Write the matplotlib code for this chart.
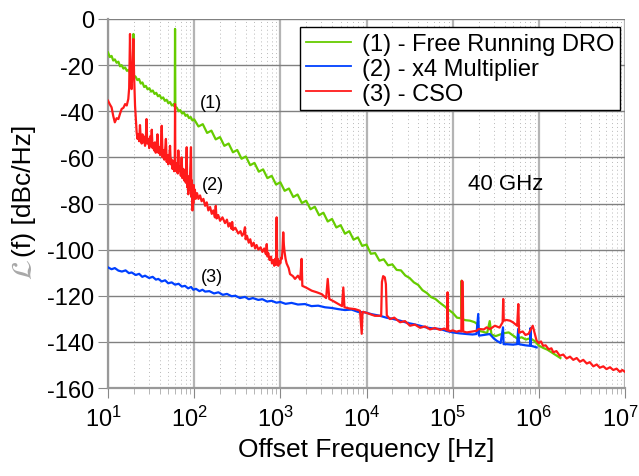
import matplotlib
matplotlib.use("Agg")
import matplotlib.pyplot as plt
import matplotlib.transforms as mtransforms
from matplotlib.ticker import LogLocator, NullFormatter

plt.rcParams['font.family'] = ['Liberation Sans', 'DejaVu Sans']
plt.rcParams['axes.unicode_minus'] = False
plt.rcParams['mathtext.fontset'] = 'custom'
plt.rcParams['mathtext.rm'] = 'Liberation Sans'
plt.rcParams['mathtext.it'] = 'Liberation Sans:italic'

# ---------------- data (offset frequency [Hz], L(f) [dBc/Hz]) ----------------
green_dro = [
    (10, -14.5), (10.5, -16.5), (11, -16), (11.5, -18), (12, -17.5), (12.6, -19),
    (13.2, -18.5), (13.8, -20.5), (14.4, -20), (15.1, -21.5), (15.8, -21), (16.6, -22.5),
    (17.4, -22), (18.2, -24), (19.1, -23.5), (19.5, -24), (19.7, -6.5), (19.9, -24.5),
    (20.9, -25), (21.9, -26.5), (22.9, -26), (24, -28), (25.1, -27.5), (26.3, -29.5),
    (27.5, -29), (28.8, -30.5), (30.2, -30), (31.6, -31.5), (33.1, -31), (34.7, -32.5),
    (36.3, -32), (38, -33.5), (39.8, -33), (41.7, -34.5), (43.7, -34), (45.7, -35.5),
    (47.9, -35), (50.1, -36.5), (52.5, -36), (55, -37.5), (57.5, -37), (59.5, -38),
    (60, -4.3), (60.5, -38), (63, -38.5), (66, -40), (69, -39.5), (72.4, -41),
    (75.9, -40.5), (79.4, -42), (83.2, -41.5), (87.1, -43), (91.2, -42.5), (95.5, -44),
    (100, -43.5), (112.2, -46.6), (125.9, -45.6), (141.3, -49.4), (158.5, -48.4),
    (177.8, -52.2), (199.5, -51.2), (223.9, -55.0), (251.2, -54.0), (281.8, -57.8),
    (316.2, -56.8), (354.8, -60.6), (398.1, -59.6), (446.7, -63.4), (501.2, -62.4),
    (562.3, -66.2), (631, -65.2), (707.9, -69.0), (794.3, -68.0), (891.3, -71.8),
    (1000, -70.8), (1122, -74.5), (1259, -73.5), (1413, -77.2), (1585, -76.1),
    (1778, -79.8), (1995, -78.8), (2239, -82.5), (2512, -81.4), (2818, -85.1),
    (3162, -84.0), (3548, -87.8), (3981, -86.7), (4467, -90.4), (5012, -89.4),
    (5623, -93.1), (6310, -92.0), (7079, -95.7), (7943, -94.7), (8913, -98.4),
    (10000, -97.8), (11220, -101.8), (12590, -101.5), (14130, -104.8), (15850, -104.2),
    (17780, -106.8), (19950, -106.4), (22390, -108.8), (25120, -109), (28180, -111.2),
    (31620, -112.3), (35480, -114.2), (39810, -115.3), (44670, -117.6), (50120, -118.8),
    (56230, -120.6), (63100, -121.4), (70790, -123), (79430, -124.4), (89130, -126),
    (100000, -127.4), (112200, -129.5), (125000, -129.8), (127000, -113.5), (129000, -130.2),
    (141000, -130.6), (158500, -130.8), (178000, -131.4), (190000, -132), (199500, -135.2),
    (223900, -135.6), (251200, -136.2), (269000, -131), (282000, -136.8), (316200, -137.5),
    (354800, -136.8), (398100, -136.2), (446700, -135.9), (501200, -137.2), (562300, -138.6),
    (631000, -138), (707900, -139), (794300, -138.4), (891300, -139.6), (1000000, -141.6),
    (1122000, -142.6), (1259000, -143.4), (1413000, -144.6), (1585000, -145.8),
    (1778000, -147),
]

blue_x4 = [
    (10, -107.7), (11, -108.5), (12, -108), (13.2, -109.1), (14.5, -109.5), (16, -109),
    (17.5, -110.2), (18.8, -109.9), (21, -111), (23, -110.5), (25, -111.8), (26.9, -111.3),
    (30, -112.3), (33, -111.8), (36, -113), (38.4, -112.7), (42, -113.8), (46, -113.3),
    (50, -114.6), (54.8, -114.2), (60, -115.2), (66, -114.8), (72, -116), (78.3, -115.7),
    (85, -116.8), (92, -116.2), (97.7, -117.4), (105, -117), (115, -118), (125, -117.4),
    (134, -118.2), (150, -118), (170, -119), (191, -118.5), (215, -119.6), (240, -119.2),
    (272, -120.2), (300, -120), (340, -121), (389, -120.5), (430, -121.5), (480, -121),
    (555, -121.8), (620, -121.5), (700, -122.5), (794, -122.2), (900, -123), (1000, -122.7),
    (1150, -123.5), (1350, -123.1), (1600, -123.8), (1930, -123.6), (2300, -124.5),
    (2750, -124.3), (3300, -125), (3950, -125.3), (4700, -125.8), (5620, -126.2),
    (6700, -126), (8000, -127), (9600, -127.2), (11500, -128), (14360, -128.7),
    (17000, -129.5), (20000, -130), (24500, -130.8), (30000, -131.8), (35000, -132.3),
    (41800, -133), (50000, -133.8), (60000, -134.2), (71300, -134.4), (85000, -135.3),
    (100000, -135.9), (120000, -136.3), (146000, -136.6), (170000, -136.8), (189000, -136.6),
    (198000, -127.9), (202000, -137.3), (230000, -137), (269000, -136.6), (300000, -138.5),
    (324000, -139.5), (360000, -140.5), (384000, -133.7), (390000, -141), (423000, -141),
    (500000, -141.2), (560000, -141), (576000, -134.4), (590000, -141), (700000, -141.5),
    (790000, -141.7), (800000, -134), (810000, -141.7), (870000, -142), (942000, -142.4),
]

red_cso = [
    (10, -35.4), (10.5, -37), (11, -38.3), (11.5, -42), (12, -44.8), (12.6, -43),
    (13.2, -43.4), (13.8, -41), (14.4, -39), (15.1, -38.5), (15.8, -36.9), (16.5, -37.5),
    (17.2, -34.7), (17.6, -30), (18.0, -6.5), (18.4, -28), (18.8, -30.4), (19.3, -20),
    (19.7, -8.7), (20.1, -25), (20.6, -37.6), (21.5, -49.1), (22, -52), (22.5, -50),
    (23, -53), (23.5, -46), (24, -52), (24.6, -54), (25.1, -50), (25.7, -53.5),
    (26.3, -51), (26.9, -55), (27.5, -52), (28, -43.4), (28.5, -54), (29.4, -52),
    (30.1, -56), (30.8, -51), (31.5, -55), (32.2, -48), (32.9, -56), (33.6, -54),
    (34.3, -57), (35, -53.5), (35.8, -58), (36.7, -55), (37.5, -50), (38.4, -58),
    (39.3, -55.5), (40.2, -59), (41, -56), (42, -46.3), (43, -60), (44, -57),
    (45, -61), (45.8, -58), (47, -52), (48, -62), (49, -59), (50, -63),
    (51.3, -60), (52.5, -55), (53.5, -63), (54.8, -61), (56, -65), (57.5, -61.5),
    (58.5, -66), (59.5, -63), (60, -36.9), (60.5, -64), (62, -66), (63, -62.5),
    (64.5, -67), (65.5, -57), (66.5, -66), (68.5, -64), (70, -68), (71.6, -60),
    (73, -69), (75, -65), (76.5, -70), (78.3, -66), (80, -71), (81.9, -55.6),
    (83, -73), (84, -68), (85.5, -76), (87, -70), (88.5, -74), (90, -65),
    (91.8, -55.6), (93, -77), (94, -70), (95.5, -83), (96.5, -74), (97.7, -80),
    (99, -72), (100, -77), (102, -74), (104, -78), (108, -75.5), (112, -78),
    (117, -76.5), (122, -79), (128, -78), (134, -81), (140, -79.5), (146, -83),
    (153, -81.5), (160, -84.5), (167, -83), (174, -86), (178, -81), (182, -86.5),
    (190, -85), (200, -87.5), (213, -86), (228, -88.5), (240, -87), (250, -90),
    (260, -88.5), (272, -91), (276, -88), (283, -91.5), (300, -90.5), (325, -93),
    (345, -92), (360, -94), (375, -93), (389, -90.3), (395, -95.5), (410, -94),
    (430, -97), (448, -95.5), (466, -98.5), (490, -97), (510, -99.5), (530, -98),
    (556, -100), (590, -99), (620, -101), (650, -99.5), (680, -102), (695, -97.6),
    (710, -103), (724, -101.5), (750, -104.5), (780, -103), (800, -106), (828, -104.5),
    (850, -107), (870, -104), (890, -106.5), (906, -86), (920, -106.5), (930, -104),
    (946, -107), (970, -105), (1000, -106), (1020, -103.5), (1040, -104), (1060, -100),
    (1081, -92.5), (1100, -98), (1120, -101), (1150, -104), (1183, -106), (1250, -108),
    (1295, -110.6), (1400, -111.5), (1480, -112.7), (1600, -111.3), (1700, -113),
    (1766, -104), (1800, -115.7), (2000, -116.5), (2312, -117.8), (2650, -118.5),
    (3020, -119.3), (3400, -121), (3548, -112.7), (3700, -121.4), (4200, -122.5),
    (4710, -123.6), (5200, -124.5), (5380, -116.4), (5550, -125), (6300, -125.5),
    (7350, -125.8), (8400, -126.5), (8800, -136.5), (9000, -127), (9600, -127.2),
    (11000, -128), (12500, -128.7), (14800, -128.7), (15100, -114), (15600, -111.5),
    (16300, -112), (16800, -115), (17200, -128.5), (18750, -130.1), (21000, -129.5),
    (24500, -131.5), (28000, -131), (32000, -133), (36500, -132.5), (41800, -133.9),
    (48000, -133.3), (54600, -134.6), (62000, -134), (71300, -134.8), (80000, -134.2),
    (86000, -135), (87300, -118.5), (88500, -135), (93100, -135.4), (100000, -135),
    (111000, -135.6), (120000, -135.2), (126000, -135.5), (127500, -113.5), (131000, -114),
    (132500, -135.5), (146000, -135.9), (170000, -135.5), (190000, -135.2), (200000, -134.4),
    (230000, -134.6), (248000, -133.7), (270000, -134.5), (309000, -133), (350000, -133.8),
    (380000, -131.5), (386000, -121.4), (392000, -130.8), (420000, -130.5), (462000, -130.8),
    (500000, -131.5), (560000, -133), (578000, -123.6), (590000, -136), (650000, -135.5),
    (700000, -137), (760000, -136.5), (850000, -133), (900000, -136.6), (942000, -139.5),
    (1000000, -140.5), (1060000, -139.8), (1120000, -141.7), (1200000, -141.5),
    (1300000, -143.2), (1400000, -142.8), (1470000, -144.5), (1600000, -144),
    (1750000, -146), (1920000, -145.5), (2100000, -147.2), (2300000, -146.4),
    (2510000, -147.8), (2750000, -147), (3000000, -148.6), (3280000, -147.8),
    (3600000, -149.4), (3900000, -148.8), (4290000, -150.6), (4700000, -149.8),
    (5100000, -151.2), (5600000, -150.6), (6100000, -151.8), (6700000, -151),
    (7310000, -152.2), (8000000, -151.6), (8700000, -153), (9300000, -152.2),
    (10000000, -153),
]

series_labels = ["(1) - Free Running DRO", "(2) - x4 Multiplier", "(3) - CSO"]
series_colors = ["#66cc00", "#0040ff", "#ff1a1a"]
x_tick_exps = [1, 2, 3, 4, 5, 6, 7]
y_ticks = [0, -20, -40, -60, -80, -100, -120, -140, -160]

# ---------------- figure ----------------
fig = plt.figure(figsize=(6.39, 4.77), dpi=100)
ax = fig.add_axes([108 / 639, 1 - 389 / 477, 517 / 639, 369 / 477])

for data, lab, col in zip([green_dro, blue_x4, red_cso], series_labels, series_colors):
    fx = [p[0] for p in data]
    fy = [p[1] for p in data]
    ax.plot(fx, fy, color=col, lw=1.6, label=lab, zorder=3)

ax.set_xscale('log')
ax.set_xlim(10, 1e7)
ax.set_ylim(-160, 0)
ax.set_yticks(y_ticks)
ax.set_yticklabels([str(v) for v in y_ticks])
ax.set_xticks([10.0 ** k for k in x_tick_exps])
ax.set_xticklabels([r'$10^{%d}$' % k for k in x_tick_exps])
ax.xaxis.set_minor_locator(LogLocator(base=10, subs=range(2, 10), numticks=20))
ax.xaxis.set_minor_formatter(NullFormatter())

ax.grid(True, which='major', axis='y', color='#808080', lw=1.0, ls='-', zorder=1)
ax.grid(True, which='major', axis='x', color='#b4b4b4', lw=1.6, ls='-', zorder=1)
ax.grid(True, which='minor', axis='x', color='#b8b8b8', lw=0.7, ls=(0, (1, 3)), zorder=1)
ax.set_axisbelow(True)

for s in ['top', 'right']:
    ax.spines[s].set_visible(False)
for s in ['left', 'bottom']:
    ax.spines[s].set_color('#999999')
    ax.spines[s].set_linewidth(1.6)

ax.tick_params(axis='both', which='major', labelsize=17, color='#888888', length=7,
               direction='out', pad=3)
ax.tick_params(axis='x', which='minor', color='#aaaaaa', length=4, direction='out')
ax.tick_params(axis='x', which='major', pad=6)

shift = mtransforms.ScaledTranslation(-5 / 100, 0, fig.dpi_scale_trans)
for lbl in ax.get_xticklabels():
    lbl.set_transform(lbl.get_transform() + shift)

ax.set_xlabel('Offset Frequency [Hz]', fontsize=19, labelpad=4)

# y label: gray script L + black text
fig.text(24 / 639, 1 - 270 / 477, r'$\mathcal{L}$', rotation=90, ha='center', va='center',
         fontsize=21, color='#a8a8a8', math_fontfamily='stix')
fig.text(24 / 639, 1 - 191 / 477, '(f) [dBc/Hz]', rotation=90, ha='center', va='center',
         fontsize=19)

# annotations
fig.text(211 / 639, 1 - 103 / 477, '(1)', ha='center', va='center', fontsize=13)
fig.text(213 / 639, 1 - 186 / 477, '(2)', ha='center', va='center', fontsize=13)
fig.text(212 / 639, 1 - 277 / 477, '(3)', ha='center', va='center', fontsize=13)
fig.text(506 / 639, 1 - 185 / 477, '40 GHz', ha='center', va='center', fontsize=16)

leg = ax.legend(loc='upper right', bbox_to_anchor=(620 / 639, 1 - 28 / 477),
                bbox_transform=fig.transFigure, fontsize=17, frameon=True,
                fancybox=False, framealpha=1, edgecolor='black', handlelength=1.9,
                handletextpad=0.45, labelspacing=0.12, borderpad=0.25, borderaxespad=0)
leg.get_frame().set_linewidth(1.0)
for ln in leg.get_lines():
    ln.set_linewidth(1.3)
leg.set_zorder(5)

fig.savefig('out.png', dpi=100)
